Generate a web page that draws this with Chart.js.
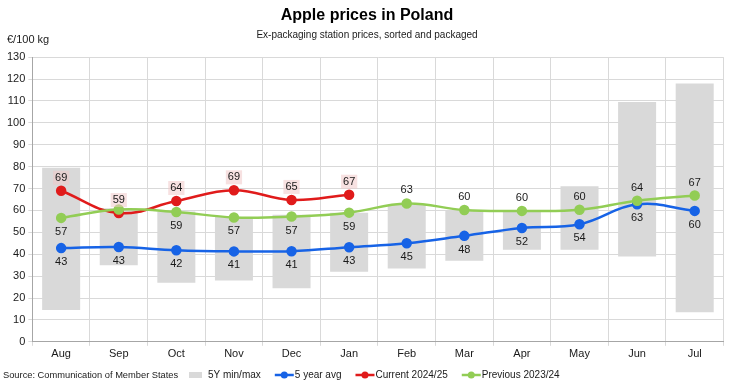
<!DOCTYPE html>
<html>
<head>
<meta charset="utf-8">
<script src="https://cdn.jsdelivr.net/npm/chart.js@4"></script>
<style>
  html, body { margin: 0; padding: 0; background: #fff; }
  #wrap { width: 730px; height: 382px; position: relative; }
</style>
</head>
<body>
<div id="wrap"><canvas id="c" width="730" height="382"></canvas></div>
<script>
// ---- Data ----
const months = ['Aug','Sep','Oct','Nov','Dec','Jan','Feb','Mar','Apr','May','Jun','Jul'];
const minMax5Y = [[14.5,79.5],[35,61],[27,59.5],[28,57],[24.5,58],[32,59],[33.5,62.5],[37,60],[42,59.5],[42,71],[39,109.5],[13.5,118]];
const avg5Y = [42.8, 43.3, 41.8, 41.3, 41.4, 43.2, 45.0, 48.4, 52.0, 53.7, 62.8, 59.8];
const current2425 = [69, 58.8, 64.3, 69.2, 64.8, 67.2, null, null, null, null, null, null];
const previous2324 = [56.6, 60.4, 59.3, 56.8, 57.2, 59.0, 63.2, 60.2, 59.8, 60.3, 64.4, 66.8];
const yTicks = [0,10,20,30,40,50,60,70,80,90,100,110,120,130];

// label placement for the previous-season series
const prevLabelPos = ['below','none','below','below','below','below','above','above','above','above','above','above'];

const FONT = "'Liberation Sans', Arial, sans-serif";
const BLUE = '#1763e6', RED = '#e01b1b', GREEN = '#92cd55', GREY = '#d9d9d9';

const labelPlugin = {
  id: 'valueLabels',
  afterDatasetsDraw(chart) {
    const ctx = chart.ctx;
    ctx.save();
    ctx.font = '11px ' + FONT;
    ctx.textAlign = 'center';
    ctx.textBaseline = 'middle';
    chart.data.datasets.forEach((ds, di) => {
      if (!ds.labelMode) return;
      const meta = chart.getDatasetMeta(di);
      meta.data.forEach((pt, i) => {
        const v = ds.data[i];
        if (v === null || v === undefined) return;
        let pos = ds.labelMode;
        if (pos === 'custom') pos = prevLabelPos[i];
        if (pos === 'none') return;
        const txt = String(Math.round(v));
        const y = pos === 'above' ? pt.y - 13 : pt.y + 14;
        if (ds.labelBg) {
          const w = ctx.measureText(txt).width + 4;
          ctx.fillStyle = ds.labelBg;
          ctx.fillRect(pt.x - w/2, y - 7, w, 14);
        }
        ctx.fillStyle = '#1a1a1a';
        ctx.fillText(txt, pt.x, y);
      });
    });
    ctx.restore();
  }
};

const legendPlugin = {
  id: 'customLegend',
  afterDraw(chart) {
    const ctx = chart.ctx;
    const ly = 375;
    ctx.save();
    ctx.fillStyle = '#1a1a1a';
    ctx.font = '11px ' + FONT;
    ctx.textAlign = 'left';
    ctx.textBaseline = 'middle';
    ctx.fillText('€/100 kg', 7, 40);
    ctx.font = '9.3px ' + FONT;
    ctx.fillText('Source: Communication of Member States', 3, ly);
    ctx.font = '10px ' + FONT;
    let x = 189;
    chart.data.datasets.forEach((ds, i) => {
      if (i === 0) {
        ctx.fillStyle = ds.backgroundColor;
        ctx.fillRect(x, ly - 3, 13, 6);
        x += 19;
      } else {
        ctx.strokeStyle = ds.borderColor;
        ctx.lineWidth = 2.5;
        ctx.beginPath(); ctx.moveTo(x, ly); ctx.lineTo(x + 19, ly); ctx.stroke();
        ctx.fillStyle = ds.borderColor;
        ctx.beginPath(); ctx.arc(x + 9.5, ly, 3.5, 0, Math.PI * 2); ctx.fill();
        x += 20;
      }
      ctx.fillStyle = '#1a1a1a';
      ctx.fillText(ds.label, x, ly);
      x += ctx.measureText(ds.label).width + 14;
    });
    ctx.restore();
  }
};

new Chart(document.getElementById('c'), {
  type: 'bar',
  data: {
    labels: months,
    datasets: [
      { type: 'bar', label: '5Y min/max', data: minMax5Y, backgroundColor: GREY, borderWidth: 0,
        barPercentage: 0.66, categoryPercentage: 1.0, order: 10 },
      { type: 'line', label: '5 year avg', data: avg5Y, borderColor: BLUE, backgroundColor: BLUE,
        borderWidth: 2.5, pointRadius: 4, pointHoverRadius: 4, tension: 0.4, order: 3,
        labelMode: 'below' },
      { type: 'line', label: 'Current 2024/25', data: current2425, borderColor: RED, backgroundColor: RED,
        borderWidth: 2.5, pointRadius: 4, pointHoverRadius: 4, tension: 0.4, order: 2,
        labelMode: 'above', labelBg: 'rgba(240,200,200,0.55)' },
      { type: 'line', label: 'Previous 2023/24', data: previous2324, borderColor: GREEN, backgroundColor: GREEN,
        borderWidth: 2.5, pointRadius: 4, pointHoverRadius: 4, tension: 0.4, order: 1,
        labelMode: 'custom' }
    ]
  },
  options: {
    responsive: false,
    animation: false,
    devicePixelRatio: 1,
    layout: { padding: { left: 4, right: 0, top: 0, bottom: 19 } },
    plugins: {
      title: { display: true, text: 'Apple prices in Poland', color: '#000',
        font: { family: FONT, size: 16, weight: 'bold' }, padding: { top: 6, bottom: 4 } },
      subtitle: { display: true, text: 'Ex-packaging station prices, sorted and packaged', color: '#1a1a1a',
        font: { family: FONT, size: 10 }, padding: { top: 0, bottom: 16 } },
      legend: { display: false },
      tooltip: { enabled: false }
    },
    scales: {
      x: {
        grid: { color: GREY, tickLength: 4, offset: true },
        border: { color: '#a6a6a6' },
        ticks: { color: '#1a1a1a', font: { family: FONT, size: 11 }, padding: 2, maxRotation: 0 }
      },
      y: {
        min: 0, max: 130,
        afterBuildTicks(scale) { scale.ticks = yTicks.map(v => ({ value: v })); },
        grid: { color: GREY, tickLength: 4 },
        border: { color: '#a6a6a6' },
        ticks: { color: '#1a1a1a', font: { family: FONT, size: 11 }, padding: 3 }
      }
    }
  },
  plugins: [labelPlugin, legendPlugin]
});
</script>
</body>
</html>
